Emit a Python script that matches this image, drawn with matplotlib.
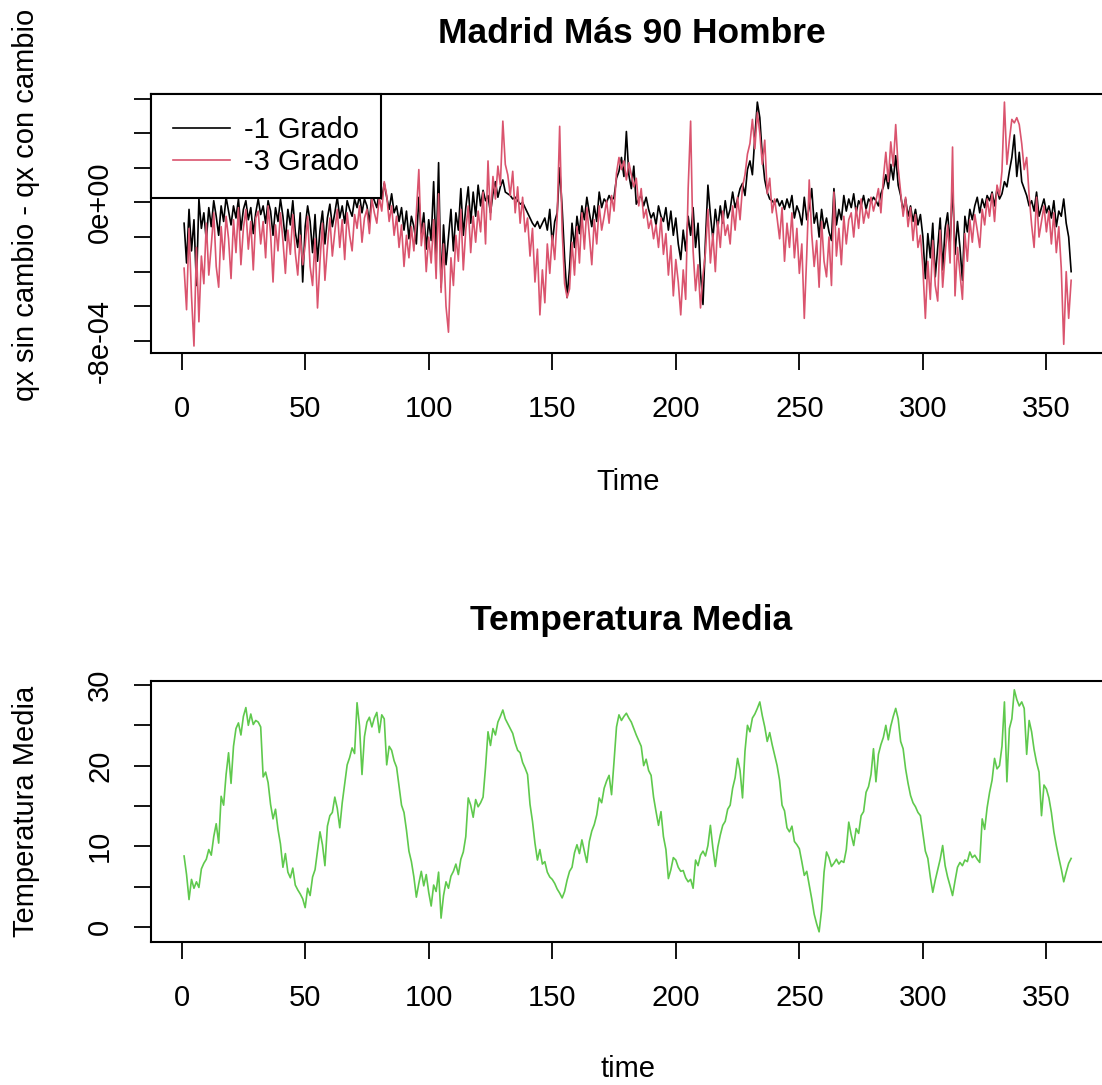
import numpy as np
import matplotlib.pyplot as plt

plt.rcParams['font.family'] = ['Liberation Sans', 'DejaVu Sans']

# weeks 1..360
time = np.arange(1, 361)

# qx sin cambio - qx con cambio, in units of 1e-4
dif_1grado = [
    -1.2, -3.5, -0.4, -2.8, -1.0, -4.8, 0.2, -1.5, -0.6, -2.2,
    -0.3, -1.4, 0.1, -0.8, -1.9, -0.2, -1.1, 0.3, -0.5, -1.3,
    -0.2, -0.9, 0.2, -1.6, -0.4, 0.1, -1.0, -0.3, -1.8, -0.6,
    0.2, -0.7, -0.2, -1.2, 0.1, -0.5, -1.9, -0.3, -1.1, 0.2,
    -0.8, -2.2, -0.4, -1.3, 0.1, -1.7, -2.6, -0.6, -4.6, -1.4,
    -0.2, -1.1, -2.9, -0.7, -3.4, -1.6, -0.5, -2.4, -0.9, -0.1,
    -1.4, -0.6, 0.3, -0.9, -0.2, -1.2, 0.1, -0.4, -0.8, 0.2,
    -0.3, 0.4, -0.6, 0.2, -0.2, -1.2, 0.5, 0.1, -0.3, 0.6,
    0.2, 1.1, 0.3, -0.4, 0.5, -0.6, -0.2, -1.1, -0.3, -1.6,
    -0.5, -2.1, -0.8, -1.4, -2.4, 0.3, -1.8, -0.6, -2.7, -1.0,
    -2.2, 1.2, -3.1, 2.3, -4.9, -1.3, -3.6, -2.0, -0.4, -2.8,
    -0.6, -1.6, 0.8, -1.9, -0.3, 0.9, -1.2, 0.6, -0.8, 1.0,
    -0.2, 0.7, 0.1, 0.4, -0.6, 0.5, 1.2, 0.3, 0.9, 1.3,
    0.6, 0.5, 0.4, 0.2, 0.3, 0.1, -0.1, 0.0, -0.3, -0.6,
    -0.9, -1.2, -1.4, -1.1, -1.5, -1.2, -0.9, -1.6, -0.4, -2.4,
    -1.1, -0.6, 2.0, -0.3, -3.2, -5.5, -3.8, -1.2, -2.6, -0.8,
    -1.8, -0.2, -1.0, 0.3, -0.6, -1.4, -0.2, -1.1, 0.6, -0.3,
    0.2, 0.0, 0.4, 0.1, 0.3, 1.4, 1.8, 2.6, 1.5, 4.1,
    1.6, 0.8, 2.1, -0.1, 0.2, 0.4, -0.2, 0.3, -0.4, -0.9,
    -0.6, -1.3, -0.2, -0.8, -1.1, -0.3, -1.6, -0.5, -1.9, -0.9,
    -2.4, -3.3, -1.6, -2.8, -0.8, -1.9, -0.3, -2.6, -1.2, -4.1,
    -5.9, -2.2, 1.0, -0.7, -2.1, -0.4, -1.5, -0.2, -1.2, 0.1,
    -0.9, -0.4, 0.6, -0.3, 0.2, 0.8, 1.1, 0.4, 1.9, 2.4,
    1.6, 3.8, 5.8, 4.9, 2.7, 1.3, 0.6, 0.2, 0.1, -0.1,
    0.2, -0.2, 0.1, -0.4, 0.2, -0.3, 0.4, -0.9, -0.2, -0.6,
    -1.3, 0.3, -1.0, -0.3, 0.8, -1.2, -0.6, -2.0, -0.4, -1.5,
    -0.9, -1.7, -2.2, 0.8, -1.3, -0.4, -1.0, 0.4, -0.5, 0.2,
    -0.3, 0.5, -0.6, 0.1, -0.2, 0.4, -0.4, 0.2, 0.0, 0.3,
    0.1, -0.2, 0.5, 0.9, 1.6, 0.8, 2.2, 1.3, 2.7, 1.0,
    0.4, -0.5, 0.2, -0.8, -0.2, -1.1, -0.4, -1.3, -0.7, -2.0,
    -4.4, -1.8, -3.2, -1.2, -4.3, -2.6, -0.9, -3.9, -1.5, -0.6,
    -2.4, 1.0, -3.0, -1.1, -2.6, -4.5, -0.8, -1.7, -0.4, -1.0,
    -0.2, 0.3, -0.6, 0.2, -0.3, 0.4, 0.1, 0.6, -0.2, 0.8,
    0.2, 0.5, 1.2, 0.9, 1.8, 2.6, 3.9, 1.5, 2.9, 1.2,
    0.8, 0.4, -0.2, 0.1, -0.5, 0.6, -0.8, -0.3, 0.2, -0.6,
    -0.2, -0.9, 0.1, -1.4, -0.5, -0.8, 0.2, -1.2, -2.0, -4.0,
]

dif_3grado = [
    -3.8, -6.2, -1.5, -5.4, -8.3, -2.6, -6.9, -3.1, -4.7, -1.2,
    -4.2, -2.5, -0.6, -3.7, -4.9, -1.4, -3.3, -0.8, -2.1, -4.4,
    -1.0, -2.9, -0.3, -3.6, -1.5, -0.4, -2.7, -1.1, -3.9, -0.9,
    -0.5, -2.4, -1.1, -3.2, -0.2, -1.8, -4.6, -1.3, -2.8, -0.6,
    -2.2, -4.1, -1.6, -3.0, -0.7, -2.9, -4.2, -1.9, -3.6, -2.5,
    -0.8, -3.7, -4.8, -2.1, -6.1, -3.4, -1.2, -4.5, -2.6, -0.9,
    -3.1, -1.7, -0.4, -2.6, -1.0, -3.3, -0.6, -1.9, -2.8, -0.7,
    -1.5, -0.2, -2.3, -0.9, -0.4, -1.8, 0.2, -0.6, -1.2, 0.3,
    -0.5, 1.2, 0.4, -1.1, -0.2, -1.9, -0.8, -2.6, -1.3, -3.7,
    -1.9, -3.2, -1.4, -2.8, -0.6, 1.9, -2.5, -1.2, -4.0, -2.0,
    -3.5, -1.0, -4.4, 0.5, -5.2, -2.4, -6.0, -7.5, -3.2, -4.8,
    -1.9, -3.4, -0.4, -3.9, -1.6, -0.2, -2.9, -0.8, -2.3, -0.5,
    -1.7, 0.6, -2.4, 2.4, -1.0, 1.5, 0.2, 2.1, 1.0, 4.7,
    2.2, 1.6, 0.4, 1.8, -0.6, 0.9, -1.2, 0.3, -1.7, -0.9,
    -3.1, -1.5, -4.6, -2.7, -6.5, -3.9, -5.8, -2.4, -4.1, -1.9,
    -3.3, -0.8, 4.4, -1.6, -4.7, -5.5, -5.0, -2.3, -4.2, -1.4,
    -3.5, -0.6, -2.7, -0.3, -1.9, -3.6, -1.0, -2.4, -0.2, -1.6,
    -0.8, 0.1, -1.2, 0.4, -0.5, 1.7, 2.6, 1.9, 2.4, 1.3,
    2.3, 1.6, 0.9, 1.4, -0.2, 0.8, -0.9, -0.4, -1.5, -1.0,
    -2.1, -1.3, -2.6, -0.9, -3.0, -1.8, -4.2, -2.5, -5.4, -3.3,
    -4.6, -6.5, -3.9, -5.6, 0.8, 4.7, -2.8, -5.1, -3.6, -6.1,
    -4.2, -2.9, -0.4, -3.5, -1.8, -4.0, -1.1, -2.6, -0.5, -1.9,
    -1.3, -2.4, -0.2, -1.6, 0.3, -1.0, 0.9, 1.6, 2.8, 3.4,
    4.8, 3.1, 5.2, 4.0, 2.2, 3.6, 0.5, 1.4, -0.6, 0.2,
    -0.9, -2.1, -0.3, -3.4, -1.2, -2.6, -0.6, -3.2, -1.5, -4.1,
    -2.4, -6.7, -3.0, 1.3, -1.8, -3.7, -2.2, -4.9, -1.1, -3.4,
    -4.3, -2.0, -4.8, 0.6, -3.1, -1.5, -3.6, -0.8, -2.4, -1.0,
    -0.6, -2.0, -0.3, -1.5, 0.2, -1.2, -0.4, -0.9, 0.3, -0.5,
    0.1, 0.8, -0.6, 1.4, 2.9, 1.2, 3.5, 2.1, 4.5, 2.0,
    0.6, -0.8, 0.3, -1.4, -0.3, -2.2, -0.7, -2.6, -1.9, -3.8,
    -6.7, -3.4, -5.6, -2.2, -4.8, -5.7, -1.6, -4.9, -3.0, -1.3,
    -3.5, 3.2, -5.4, -2.6, -4.1, -5.6, -1.8, -3.4, -1.0, -2.3,
    -0.7, -1.6, -2.6, -0.4, -1.3, 0.2, -0.8, 0.5, -1.1, 1.0,
    0.4, 1.8, 5.8, 2.2, 3.6, 4.8, 4.6, 4.9, 4.5, 3.4,
    1.9, 2.6, 0.4, -1.3, -2.6, 0.3, -2.0, -1.1, -0.2, -1.7,
    -0.5, -2.4, -0.6, -2.9, -1.4, -3.8, -8.2, -4.0, -6.7, -4.5,
]

# temperatura media semanal (C)
temp_media = [
    8.8, 6.5, 3.4, 5.9, 4.8, 5.6, 4.9, 7.2, 7.9, 8.4,
    9.6, 8.9, 11.2, 12.8, 10.4, 16.2, 15.1, 18.9, 21.6, 17.8,
    22.4, 24.6, 25.3, 23.8, 26.1, 27.2, 25.0, 26.4, 25.1, 25.6,
    25.4, 24.8, 18.6, 19.2, 17.9, 15.2, 13.4, 14.6, 12.1, 10.3,
    7.4, 9.1, 6.8, 6.1, 7.3, 5.2, 4.6, 4.1, 3.5, 2.4,
    4.8, 3.9, 6.2, 7.1, 9.4, 11.8, 10.2, 7.6, 12.5, 13.8,
    14.2, 16.1, 14.7, 12.3, 15.4, 17.8, 20.1, 21.0, 22.2, 21.5,
    27.8, 24.9, 18.9, 23.6, 25.4, 26.0, 24.8, 25.9, 26.6, 24.1,
    26.3, 25.8, 20.1, 22.4, 21.9, 20.6, 19.8, 17.4, 15.1, 14.2,
    12.0, 9.4, 8.1, 6.2, 3.7, 5.4, 6.9, 5.1, 6.5, 4.3,
    2.6, 5.2, 4.4, 6.8, 1.1, 3.9, 5.6, 4.8, 6.3, 6.9,
    7.8, 6.5, 8.4, 9.3, 11.2, 16.0, 15.1, 13.6, 15.8, 14.9,
    15.4, 16.1, 19.8, 24.2, 22.5, 24.6, 23.8, 25.4, 26.1, 26.9,
    25.8, 25.2, 24.6, 24.0, 22.8, 21.9, 21.6, 20.4, 19.7, 18.9,
    15.2, 13.1, 10.4, 8.3, 9.6, 7.8, 8.1, 6.8, 6.2, 5.9,
    5.4, 4.7, 4.2, 3.6, 4.4, 5.8, 6.9, 7.4, 9.2, 10.2,
    9.1, 10.8, 9.4, 8.0, 10.6, 11.9, 12.7, 13.9, 16.0, 15.4,
    17.2, 18.1, 18.8, 16.4, 20.5, 24.8, 26.3, 25.6, 26.1, 26.5,
    25.9, 25.4, 24.6, 23.8, 23.1, 22.4, 20.0, 20.8, 19.4, 18.8,
    16.1, 14.3, 12.6, 14.3, 11.2, 9.6, 6.0, 7.1, 8.6, 8.3,
    7.4, 6.9, 7.0, 6.1, 5.6, 5.9, 4.8, 8.3, 7.6, 8.9,
    9.4, 8.8, 10.1, 12.6, 9.8, 7.5, 9.9, 11.4, 12.6, 13.1,
    14.6, 15.1, 17.2, 18.5, 20.9, 19.4, 16.0, 21.8, 25.0, 24.2,
    25.9, 26.4, 27.1, 27.9, 26.2, 24.8, 23.0, 24.1, 22.6, 21.3,
    20.0, 18.2, 15.1, 14.4, 12.3, 11.8, 12.5, 10.6, 10.2, 9.7,
    8.1, 6.4, 6.9, 5.2, 3.5, 1.6, 0.4, -0.6, 2.1, 6.8,
    9.3, 8.6, 7.5, 7.9, 8.4, 7.8, 8.2, 8.0, 9.6, 13.0,
    11.4, 10.1, 12.2, 11.6, 13.8, 14.3, 16.7, 17.4, 18.9, 22.1,
    18.0, 21.4, 22.6, 23.5, 25.0, 23.2, 24.9, 26.1, 27.1, 25.8,
    23.0, 22.1, 19.6, 17.8, 16.3, 15.4, 14.9, 14.2, 13.8, 11.6,
    9.4, 8.5, 6.2, 4.3, 5.8, 7.1, 8.4, 10.1, 7.6, 6.2,
    5.1, 3.9, 5.7, 7.4, 8.0, 7.6, 8.3, 8.1, 9.3, 8.6,
    8.9, 8.4, 8.0, 13.4, 12.1, 14.8, 16.7, 18.2, 20.9, 19.6,
    20.0, 22.4, 27.9, 18.0, 24.6, 25.8, 29.4, 28.2, 27.4, 27.9,
    27.1, 21.4, 25.6, 24.2, 22.0, 20.4, 19.2, 13.8, 17.6, 17.1,
    16.0, 14.2, 11.8, 10.1, 8.6, 7.2, 5.6, 6.8, 7.9, 8.5,
]

x_ticks = [0, 50, 100, 150, 200, 250, 300, 350]
qx_ticks = [-8e-4, -6e-4, -4e-4, -2e-4, 0, 2e-4, 4e-4, 6e-4]
qx_labels = ['-8e-04', '', '', '', '0e+00', '', '', '']
t_ticks = [0, 5, 10, 15, 20, 25, 30]
t_labels = ['0', '', '10', '', '20', '', '30']

fs = 21

fig = plt.figure(figsize=(11.02, 10.85), dpi=100)
# plot box runs past the right edge of the picture (cropped like the original)
ax1 = fig.add_axes([0.137, 0.6747, 0.872, 0.2387])
ax2 = fig.add_axes([0.137, 0.1318, 0.872, 0.2406])
xlim = (-12.4, 376.5)

# top panel
scale = 1e-4
ax1.plot(time, np.array(dif_1grado) * scale, color='black', lw=1.2, label='-1 Grado')
ax1.plot(time, np.array(dif_3grado) * scale, color='#DA546E', lw=1.2, label='-3 Grado')
ax1.set_xlim(*xlim)
ax1.set_ylim(-8.7e-4, 6.27e-4)
ax1.set_yticks(qx_ticks)
ax1.set_yticklabels(qx_labels)
ax1.set_title('Madrid Más 90 Hombre', fontsize=25.5, fontweight='bold', pad=37)
ax1.set_xlabel('Time', fontsize=fs)
ax1.set_ylabel('qx sin cambio - qx con cambio', fontsize=fs)
leg = ax1.legend(loc='upper left', bbox_to_anchor=(0, 1), borderaxespad=0,
                 fontsize=fs, fancybox=False, edgecolor='black', framealpha=1,
                 handlelength=1.95, handletextpad=0.5, borderpad=0.75,
                 labelspacing=0.15)
leg.get_frame().set_linewidth(1.5)

# bottom panel
ax2.plot(time, temp_media, color='#5FC94D', lw=1.2)
ax2.set_xlim(*xlim)
ax2.set_ylim(-1.86, 30.5)
ax2.set_yticks(t_ticks)
ax2.set_yticklabels(t_labels)
ax2.set_title('Temperatura Media', fontsize=25.5, fontweight='bold', pad=37)
ax2.set_xlabel('time', fontsize=fs)
ax2.set_ylabel('Temperatura Media', fontsize=fs)

for ax, xl, yl in [(ax1, -0.5, 0.57), (ax2, -0.485, 0.5)]:
    ax.set_xticks(x_ticks)
    ax.tick_params(axis='both', direction='out', length=12.5, width=1.3,
                   labelsize=fs, color='black')
    ax.tick_params(axis='x', pad=18)
    ax.tick_params(axis='y', pad=14, labelrotation=90)
    for lab in ax.get_yticklabels():
        lab.set_va('center')
    for sp in ax.spines.values():
        sp.set_linewidth(1.5)
    ax.xaxis.label.set_va('center')
    ax.xaxis.set_label_coords(0.5 * (1106 - 151) / (1112 - 151), xl)
    ax.yaxis.label.set_va('center')
    ax.yaxis.set_label_coords(-0.13, yl)

fig.savefig('out.png', dpi=100, facecolor='white')
